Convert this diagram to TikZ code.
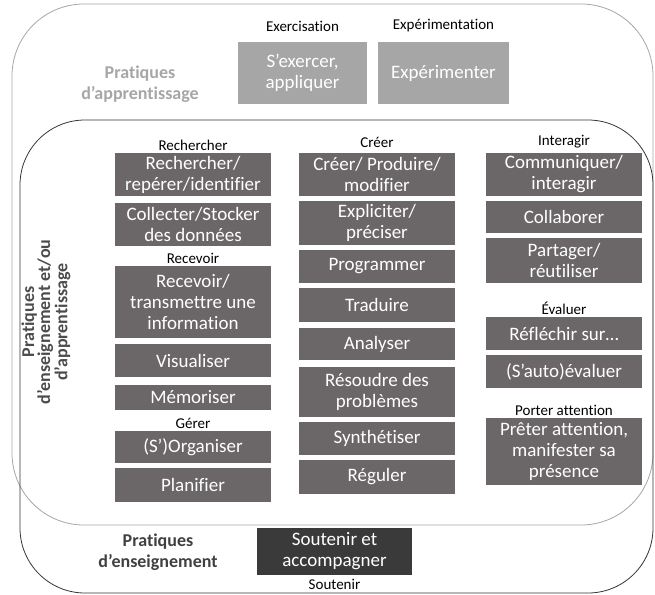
\documentclass[tikz,border=0pt]{standalone}
\usepackage{fontspec}
\setmainfont{Carlito}[Ligatures=NoCommon]
\definecolor{boxdark}{RGB}{107,103,104}
\definecolor{boxlight}{RGB}{166,166,166}
\definecolor{boxblack}{RGB}{58,58,58}
\begin{document}
\begin{tikzpicture}[x=1pt,y=-1pt,line join=round,line cap=round,
  box/.style={fill=boxdark,text=white,align=center,inner sep=0pt,minimum width=156,font=\fontsize{19}{21}\selectfont},
  tag/.style={inner sep=1pt,font=\fontsize{15}{17}\selectfont},
  side/.style={align=center,font=\bfseries\fontsize{18}{21}\selectfont}]
\def \W{655};
\def \H{594};
\useasboundingbox (0,0) rectangle (\W,\H);
\draw[boxlight,line width=0.8pt,rounded corners=72] (12,4) rectangle (653,525);
\draw[black!80,line width=0.8pt,rounded corners=65] (20,120) rectangle (653,593);
% pratiques d'apprentissage
\node[side,text=boxlight] (appr) at (140,84) {Pratiques\\d’apprentissage};
\node[box,fill=boxlight,minimum width=129,minimum height=62] (exer) at (302.5,73) {S’exercer,\\appliquer};
\node[box,fill=boxlight,minimum width=131,minimum height=62] (expe) at (443.5,73) {Expérimenter};
\node[tag] (texer) at (302.5,26) {Exercisation};
\node[tag] (texpe) at (443.5,26) {Expérimentation};
% pratiques d'enseignement et/ou d'apprentissage
\node[side,text=black!70,rotate=90,font=\bfseries\fontsize{18}{16}\selectfont] (mixte) at (46,322) {Pratiques\\d’enseignement et/ou\\d’apprentissage};
\foreach \n/\ya/\yb/\t in {rech/153/196/{Rechercher/\\repérer/identifier},coll/203/246/{Collecter/Stocker\\des données},
  recv/266/338/{Recevoir/\\transmettre une\\information},visu/344/377/{Visualiser},memo/385/410/{Mémoriser},
  orga/431/463/{(S’)Organiser},plan/468/502/{Planifier}}
  \node[box,minimum height={\yb-\ya}] (\n) at (193,{(\ya+\yb)/2}) {\t};
\foreach \n/\ya/\yb/\t in {crea/153/196/{Créer/ Produire/\\modifier},expl/201/245/{Expliciter/\\préciser},
  prog/250/283/{Programmer},trad/288/322/{Traduire},anal/328/360/{Analyser},reso/367/417/{Résoudre des\\problèmes},
  synt/422/455/{Synthétiser},regu/460/494/{Réguler}}
  \node[box,minimum height={\yb-\ya}] (\n) at (377,{(\ya+\yb)/2}) {\t};
\foreach \n/\ya/\yb/\t in {comm/153/196/{Communiquer/\\interagir},coll/201/233/{Collaborer},part/238/283/{Partager/\\réutiliser},
  refl/317/350/{Réfléchir sur…},eval/355/388/{(S’auto)évaluer},pret/418/485/{Prêter attention,\\manifester sa\\présence}}
  \node[box,minimum height={\yb-\ya}] (\n) at (564,{(\ya+\yb)/2}) {\t};
\foreach \n/\x/\y/\t in {trech/193/145/Rechercher,trecv/193/258/Recevoir,tgere/193/423/Gérer,tcrea/377/142/Créer,
  tinte/564/142/Interagir,teval/564/308/Évaluer,tatte/564/410/{Porter attention}}
  \node[tag] (\n) at (\x,\y) {\t};
% pratiques d'enseignement
\node[side,text=black!75] (ens) at (158,552) {Pratiques\\d’enseignement};
\node[box,fill=boxblack,minimum width=155,minimum height=47] (sout) at (334.5,551.5) {Soutenir et\\accompagner};
\node[tag] (tsout) at (334.5,584.5) {Soutenir};
\end{tikzpicture}
\end{document}
